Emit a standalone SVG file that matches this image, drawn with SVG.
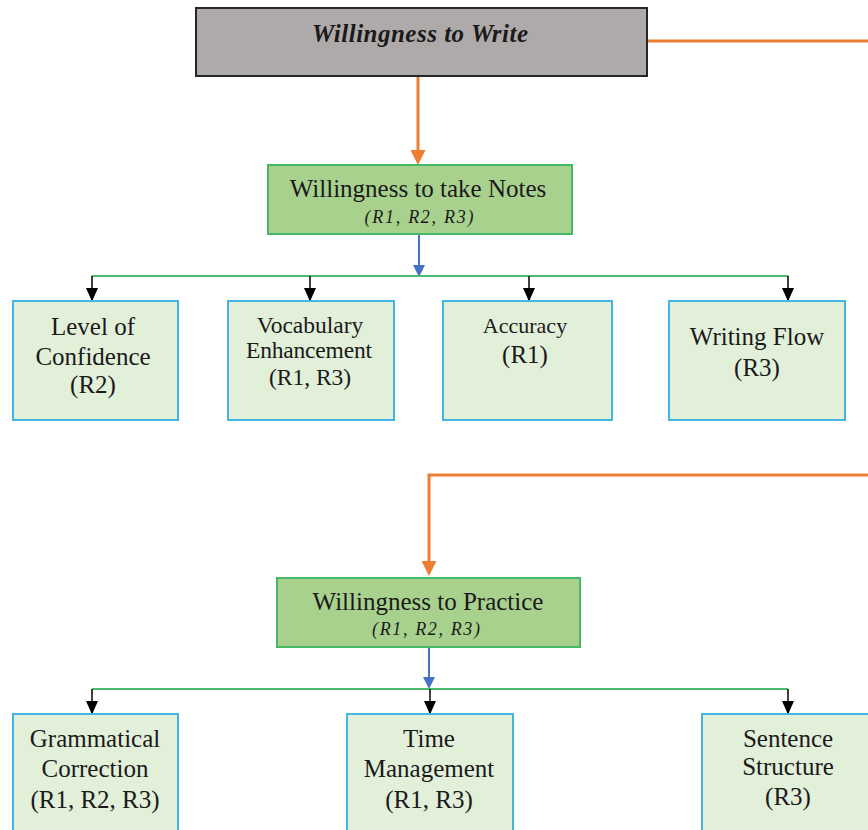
<svg xmlns="http://www.w3.org/2000/svg" width="868" height="830" viewBox="0 0 868 830">
<style>
text{font-family:"Liberation Serif","Times New Roman",serif;fill:#1a1a1a;text-anchor:middle}
.t{font-size:25px}
.s{font-size:22px}
.v{font-size:23.5px}
.r{font-size:18px;font-style:italic}
.leaf{fill:#e2efd9;stroke:#45b5e6;stroke-width:2}
.mid{fill:#a9d18e;stroke:#45b865;stroke-width:2}
.or{stroke:#ed7d31;stroke-width:3;fill:none}
.gr{stroke:#4cba6c;stroke-width:2;fill:none}
.bl{stroke:#4472c4;stroke-width:2;fill:none}
.bk{stroke:#000;stroke-width:1.5;fill:none}
</style>
<defs>
<marker id="ao" markerWidth="5" markerHeight="5" refX="4" refY="2.5" orient="auto" markerUnits="strokeWidth"><path d="M0,0 L5,2.5 L0,5 Z" fill="#ed7d31"/></marker>
<marker id="ab" markerWidth="6" markerHeight="6" refX="5" refY="3" orient="auto" markerUnits="strokeWidth"><path d="M0,0 L6,3 L0,6 Z" fill="#4472c4"/></marker>
<marker id="ak" markerWidth="9" markerHeight="8" refX="8" refY="4" orient="auto" markerUnits="strokeWidth"><path d="M0,0 L9,4 L0,8 Z" fill="#000"/></marker>
</defs>
<g id="connectors">
<path class="or" d="M647,41 H868"/>
<path class="or" d="M418,77 V162" marker-end="url(#ao)"/>
<path class="bl" d="M419,234 V275" marker-end="url(#ab)"/>
<path class="gr" d="M92,276 H788"/>
<path class="bk" d="M92,276 V300" marker-end="url(#ak)"/>
<path class="bk" d="M310,276 V300" marker-end="url(#ak)"/>
<path class="bk" d="M529,276 V300" marker-end="url(#ak)"/>
<path class="bk" d="M788,276 V300" marker-end="url(#ak)"/>
<path class="or" d="M868,475 H429 V573" marker-end="url(#ao)"/>
<path class="bl" d="M429,647 V687" marker-end="url(#ab)"/>
<path class="gr" d="M92,689 H788"/>
<path class="bk" d="M92,689 V713" marker-end="url(#ak)"/>
<path class="bk" d="M430,689 V713" marker-end="url(#ak)"/>
<path class="bk" d="M788,689 V713" marker-end="url(#ak)"/>
</g>
<g id="willingness-write">
<rect x="196" y="8" width="451" height="68" fill="#aeaaaa" stroke="#262626" stroke-width="2"/>
<text x="420" y="42" class="t" font-weight="bold" font-style="italic" textLength="216" lengthAdjust="spacing">Willingness to Write</text>
</g>
<g id="take-notes">
<rect x="268" y="165" width="304" height="69" class="mid"/>
<text x="418" y="197" class="t">Willingness to take Notes</text>
<text x="419" y="223" class="r" textLength="109" lengthAdjust="spacing">(R1, R2, R3)</text>
</g>
<g id="level-confidence">
<rect x="13" y="301" width="165" height="119" class="leaf"/>
<text x="93" y="335" class="t">Level of</text>
<text x="93" y="365" class="t">Confidence</text>
<text x="93" y="393" class="t">(R2)</text>
</g>
<g id="vocabulary">
<rect x="228" y="301" width="166" height="119" class="leaf"/>
<text x="310" y="333" class="v">Vocabulary</text>
<text x="309" y="358" class="v" textLength="126" lengthAdjust="spacing">Enhancement</text>
<text x="310" y="385" class="v">(R1, R3)</text>
</g>
<g id="accuracy">
<rect x="443" y="301" width="169" height="119" class="leaf"/>
<text x="525" y="333" class="s">Accuracy</text>
<text x="525" y="363" class="t">(R1)</text>
</g>
<g id="writing-flow">
<rect x="669" y="301" width="176" height="119" class="leaf"/>
<text x="757" y="345" class="t">Writing Flow</text>
<text x="757" y="376" class="t">(R3)</text>
</g>
<g id="practice">
<rect x="277" y="578" width="303" height="69" class="mid"/>
<text x="428" y="610" class="t">Willingness to Practice</text>
<text x="426" y="635" class="r" textLength="108" lengthAdjust="spacing">(R1, R2, R3)</text>
</g>
<g id="grammatical">
<rect x="13" y="714" width="165" height="130" class="leaf"/>
<text x="95" y="747" class="t">Grammatical</text>
<text x="95" y="777" class="t">Correction</text>
<text x="95" y="808" class="t">(R1, R2, R3)</text>
</g>
<g id="time-management">
<rect x="347" y="714" width="166" height="130" class="leaf"/>
<text x="429" y="747" class="t">Time</text>
<text x="429" y="777" class="t">Management</text>
<text x="429" y="808" class="t">(R1, R3)</text>
</g>
<g id="sentence-structure">
<rect x="702" y="714" width="180" height="130" class="leaf"/>
<text x="788" y="747" class="t">Sentence</text>
<text x="788" y="775" class="t">Structure</text>
<text x="788" y="805" class="t">(R3)</text>
</g>
</svg>
